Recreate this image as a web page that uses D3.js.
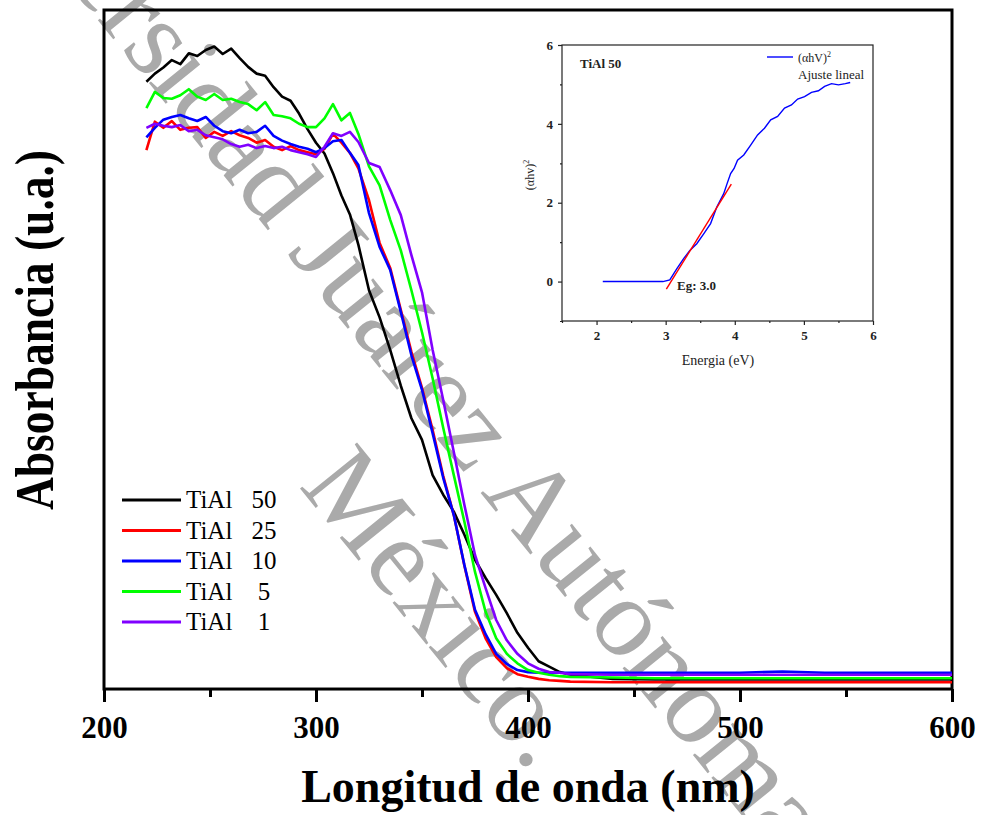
<!DOCTYPE html>
<meta charset="UTF-8">
<head>
  <script src="https://cdnjs.cloudflare.com/ajax/libs/d3/7.8.5/d3.min.js"></script>
</head>
<title>Absorbancia TiAl</title>
<style>
  body { margin: 0; background: #fff; }
  svg text { font-family: "Liberation Serif", "Times New Roman", serif; }
</style>
<body>
<div id="chart"></div>
<script>
// wavelength grid (nm)
var wavelengths = [220,224,228,232,236,240,244,248,252,256,260,264,268,272,276,280,284,288,292,296,300,304,308,312,316,320,
  325,330,335,340,345,350,355,360,365,370,375,380,385,390,395,400,405,410,415,420,
  440,460,480,500,520,540,560,580,600];

// absorbance (u.a.) per sample
var tial50 = [89.4,90.6,91.5,92.6,92.0,93.6,93.2,94.1,94.6,93.5,94.3,92.9,91.6,90.6,90.3,88.6,87.2,86.6,84.7,82.4,80.4,78.8,75.9,72.6,69.8,65.3,
  58.6,54.6,49.8,44.5,39.7,36.5,31.3,28.4,25.9,22.5,18.8,16.1,13.6,10.9,8.0,5.8,3.8,3.0,2.2,1.8,
  1.2,1.1,1.1,1.1,1.1,1.1,1.1,1.1,1.1];
var tial25 = [79.3,83.5,82.6,83.6,82.3,82.6,82.7,81.1,82.0,81.4,82.1,81.5,81.1,80.4,80.8,79.8,79.3,79.9,79.3,79.0,78.7,79.5,81.7,80.4,78.9,76.6,
  71.9,65.6,61.9,55.7,49.5,44.2,38.0,31.2,25.4,17.9,11.1,7.2,4.4,2.8,1.9,1.5,1.2,1.0,0.9,0.8,
  0.7,0.7,0.7,0.7,0.7,0.7,0.7,0.7,0.7];
var tial10 = [81.2,82.6,83.8,84.2,84.5,84.0,83.6,84.2,82.9,82.1,81.8,82.3,81.8,82.0,82.9,81.4,80.7,80.2,79.8,79.5,79.0,79.6,80.6,80.8,78.9,77.1,
  70.0,65.0,61.6,55.4,49.0,43.9,37.5,30.9,25.4,18.0,11.4,7.8,4.9,3.4,2.5,2.2,2.1,2.1,2.1,2.1,
  2.1,2.1,2.1,2.1,2.3,2.1,2.1,2.1,2.1];
var tial5 = [85.5,87.9,87.0,86.9,87.4,88.3,87.2,86.7,87.6,86.7,86.9,86.4,86.1,85.2,86.4,84.5,84.3,84.0,83.2,82.7,82.7,84.0,86.1,83.7,84.8,81.7,
  76.9,74.1,69.0,64.5,58.6,52.4,45.6,38.3,31.3,24.4,17.0,11.1,7.2,4.9,3.5,2.5,2.1,1.8,1.6,1.5,
  1.4,1.3,1.3,1.3,1.3,1.3,1.3,1.3,1.3];
var tial1 = [82.6,83.2,82.9,82.7,83.0,82.1,82.3,81.5,81.2,80.9,80.2,79.8,80.1,79.6,79.9,79.6,79.8,79.3,79.0,78.7,78.3,79.8,81.8,81.4,82.0,80.5,
  77.4,76.8,73.4,69.7,63.8,58.3,49.8,42.4,34.7,26.9,19.5,14.6,9.9,6.9,4.9,3.5,2.7,2.2,2.1,1.9,
  1.8,1.8,1.8,1.8,1.8,1.8,1.8,1.8,1.8];

var seriesLabels = ["50", "25", "10", "5", "1"];
var seriesColors = ["#000000", "#ff0000", "#0000ff", "#00ff00", "#8000ff"];
var xTicks = [200, 300, 400, 500, 600];
var xMinorTicks = [250, 350, 450, 550];

// inset: Tauc plot TiAl 50
var insetEnergy = [2.09,2.96,3.06,3.16,3.26,3.35,3.45,3.55,3.65,3.74,3.84,3.89,3.94,3.99,4.04,4.13,4.23,4.33,4.43,4.52,4.62,4.72,4.82,4.91,5.01,5.11,5.21,5.30,5.40,5.50,5.60,5.67];
var insetValue = [0,0,0.04,0.32,0.58,0.79,0.96,1.21,1.47,1.89,2.23,2.49,2.74,2.87,3.08,3.21,3.46,3.72,3.89,4.10,4.19,4.40,4.48,4.63,4.69,4.80,4.84,4.95,5.02,4.99,5.02,5.05];
var fitEnergy = [3.01, 3.95];
var fitValue = [-0.19, 2.47];
var insetXTicks = [2, 3, 4, 5, 6];
var insetXMinor = [1.5, 2.5, 3.5, 4.5, 5.5];
var insetYTicks = [0, 2, 4, 6];
var insetYMinor = [-1, 1, 3, 5];

var watermarkLine1 = "Universidad Juárez Autónoma de Tabasco.";
var watermarkLine2 = "México.";

var width = 981;
var height = 815;

var svg = d3.select("#chart")
  .append("svg")
  .attr("width", width)
  .attr("height", height);

var x = d3.scaleLinear().domain([200, 600]).range([104, 952]);
var y = d3.scaleLinear().domain([0, 100]).range([687, 10]);

// watermark (behind the data)
var wmSize = 112;
var wm = svg.append("g")
  .attr("fill", "#aaaaaa")
  .style("font-size", wmSize + "px");
var probe = wm.append("text").text("Universidad Juárez");
var preLen = probe.node().getComputedTextLength() + 0.25 * wmSize;
probe.remove();
wm.append("text")
  .attr("transform", "translate(484,497) rotate(51)")
  .attr("x", -preLen)
  .text(watermarkLine1);
wm.append("text")
  .attr("transform", "translate(298,486) rotate(51)")
  .text(watermarkLine2);

// frame
svg.append("rect")
  .attr("x", x(200))
  .attr("y", y(100))
  .attr("width", x(600) - x(200))
  .attr("height", y(-0.3) - y(100))
  .attr("fill", "none")
  .attr("stroke", "#000")
  .attr("stroke-width", 3);

var xAxis = svg.append("g")
  .attr("transform", "translate(0," + y(-0.3) + ")")
  .call(d3.axisBottom(x).tickValues(xTicks).tickSize(13).tickSizeOuter(0).tickPadding(14).tickFormat(d3.format("d")));
xAxis.select(".domain").remove();
xAxis.selectAll("line").attr("stroke-width", 3);
xAxis.selectAll("text")
  .style("font-size", "31px")
  .style("font-weight", "bold")
  .attr("fill", "#000");

var xMinor = svg.append("g")
  .attr("transform", "translate(0," + y(-0.3) + ")")
  .call(d3.axisBottom(x).tickValues(xMinorTicks).tickSize(8).tickSizeOuter(0).tickFormat(""));
xMinor.select(".domain").remove();
xMinor.selectAll("line").attr("stroke-width", 3);

svg.append("text")
  .attr("x", (x(200) + x(600)) / 2)
  .attr("y", 802)
  .attr("text-anchor", "middle")
  .style("font-size", "46px")
  .style("font-weight", "bold")
  .text("Longitud de onda (nm)");

svg.append("text")
  .attr("transform", "translate(53,330) rotate(-90)")
  .attr("text-anchor", "middle")
  .attr("textLength", 360)
  .attr("lengthAdjust", "spacingAndGlyphs")
  .style("font-size", "54px")
  .style("font-weight", "bold")
  .text("Absorbancia (u.a.)");

// curves
var allSeries = [tial50, tial25, tial10, tial5, tial1];
var line = d3.line()
  .x(function(d, i) { return x(wavelengths[i]); })
  .y(function(d) { return y(d); });

svg.append("g")
  .selectAll("path")
  .data(allSeries)
  .enter()
  .append("path")
  .attr("d", line)
  .attr("fill", "none")
  .attr("stroke", function(d, i) { return seriesColors[i]; })
  .attr("stroke-width", 2.6)
  .attr("stroke-linejoin", "round");

// legend
var legend = svg.append("g")
  .selectAll("g")
  .data(seriesLabels)
  .enter()
  .append("g")
  .attr("transform", function(d, i) { return "translate(0," + (500 + i * 30.5) + ")"; });
legend.append("line")
  .attr("x1", 122).attr("x2", 181)
  .attr("stroke", function(d, i) { return seriesColors[i]; })
  .attr("stroke-width", 3);
legend.append("text")
  .attr("x", 186).attr("y", 8)
  .style("font-size", "25px")
  .text("TiAl");
legend.append("text")
  .attr("x", 264).attr("y", 8)
  .attr("text-anchor", "middle")
  .style("font-size", "25px")
  .text(function(d) { return d; });

// inset
var ix = d3.scaleLinear().domain([1.5, 6]).range([562, 873]);
var iy = d3.scaleLinear().domain([-1, 6]).range([321, 45]);
var inset = svg.append("g");

inset.append("rect")
  .attr("x", ix(1.5)).attr("y", iy(6))
  .attr("width", ix(6) - ix(1.5)).attr("height", iy(-1) - iy(6))
  .attr("fill", "none").attr("stroke", "#222").attr("stroke-width", 1.2);

var ixAxis = inset.append("g")
  .attr("transform", "translate(0," + iy(-1) + ")")
  .call(d3.axisBottom(ix).tickValues(insetXTicks).tickSize(4).tickSizeOuter(0).tickPadding(6).tickFormat(d3.format("d")));
var ixMinor = inset.append("g")
  .attr("transform", "translate(0," + iy(-1) + ")")
  .call(d3.axisBottom(ix).tickValues(insetXMinor).tickSize(2).tickSizeOuter(0).tickFormat(""));
var iyAxis = inset.append("g")
  .attr("transform", "translate(" + ix(1.5) + ",0)")
  .call(d3.axisLeft(iy).tickValues(insetYTicks).tickSize(4).tickSizeOuter(0).tickPadding(5).tickFormat(d3.format("d")));
var iyMinor = inset.append("g")
  .attr("transform", "translate(" + ix(1.5) + ",0)")
  .call(d3.axisLeft(iy).tickValues(insetYMinor).tickSize(2).tickSizeOuter(0).tickFormat(""));
inset.selectAll(".domain").remove();
inset.selectAll(".tick line").attr("stroke", "#222").attr("stroke-width", 1.2);
inset.selectAll(".tick text")
  .style("font-size", "13px")
  .style("font-weight", "bold")
  .attr("fill", "#222");

inset.append("text")
  .attr("x", 718).attr("y", 365)
  .attr("text-anchor", "middle")
  .style("font-size", "14px")
  .attr("fill", "#222")
  .text("Energia (eV)");

var iyTitle = inset.append("text")
  .attr("transform", "translate(534,175) rotate(-90)")
  .attr("text-anchor", "middle")
  .style("font-size", "12px")
  .attr("fill", "#222");
iyTitle.append("tspan").text("(αhv)");
iyTitle.append("tspan").attr("dy", -5).style("font-size", "8px").text("2");

var iline = d3.line()
  .x(function(d, i) { return ix(insetEnergy[i]); })
  .y(function(d) { return iy(d); });
inset.append("path")
  .attr("d", iline(insetValue))
  .attr("fill", "none")
  .attr("stroke", "#0000ff")
  .attr("stroke-width", 1.4);

var fline = d3.line()
  .x(function(d, i) { return ix(fitEnergy[i]); })
  .y(function(d) { return iy(d); });
inset.append("path")
  .attr("d", fline(fitValue))
  .attr("fill", "none")
  .attr("stroke", "#ff0000")
  .attr("stroke-width", 1.4);

inset.append("text")
  .attr("x", 580).attr("y", 68)
  .style("font-size", "13px")
  .style("font-weight", "bold")
  .attr("fill", "#222")
  .text("TiAl 50");

inset.append("line")
  .attr("x1", 767).attr("x2", 793)
  .attr("y1", 57).attr("y2", 57)
  .attr("stroke", "#0000ff")
  .attr("stroke-width", 1.4);
var lg1 = inset.append("text")
  .attr("x", 798).attr("y", 62)
  .style("font-size", "12px")
  .attr("fill", "#222");
lg1.append("tspan").text("(αhV)");
lg1.append("tspan").attr("dy", -5).style("font-size", "8px").text("2");
inset.append("text")
  .attr("x", 798).attr("y", 79)
  .style("font-size", "13px")
  .attr("fill", "#222")
  .text("Ajuste lineal");

inset.append("text")
  .attr("x", 677).attr("y", 290)
  .style("font-size", "13px")
  .style("font-weight", "bold")
  .attr("fill", "#222")
  .text("Eg: 3.0");
</script>
</body>
